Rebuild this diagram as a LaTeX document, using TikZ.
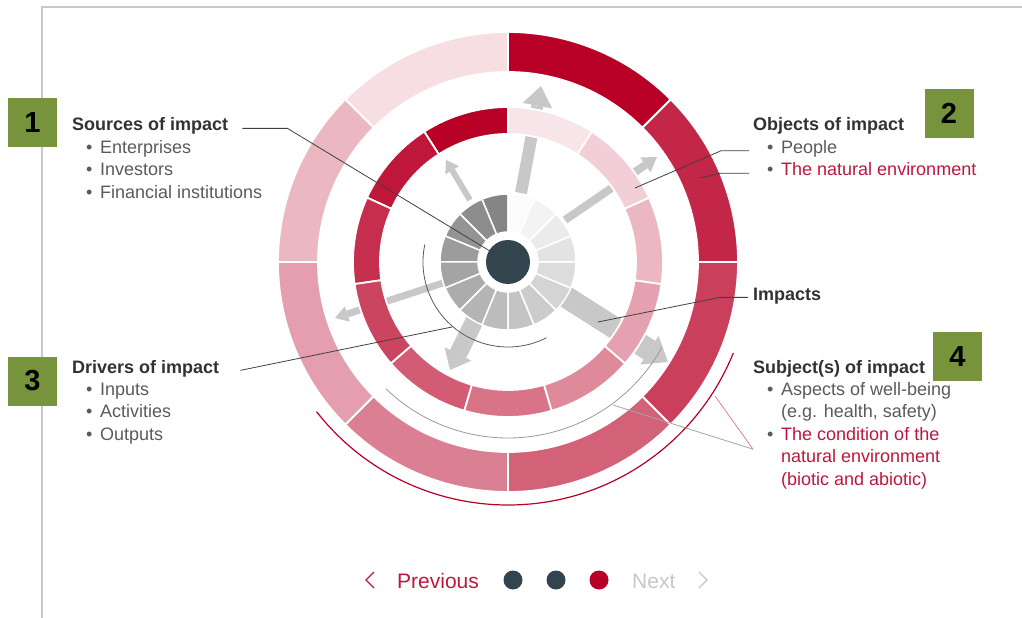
\documentclass[tikz,border=0pt]{standalone}
\usepackage{fontspec}
\setmainfont{Liberation Sans}
\usetikzlibrary{calc}

\definecolor{impred}{RGB}{184,0,38}
\definecolor{textred}{RGB}{190,22,60}
\definecolor{headgray}{RGB}{50,50,50}
\definecolor{itemgray}{RGB}{90,90,90}
\definecolor{boxgreen}{RGB}{119,147,60}
\definecolor{hubblue}{RGB}{52,68,79}
\definecolor{arrowgray}{RGB}{200,200,200}
\definecolor{framegray}{RGB}{200,200,200}

\newcommand{\itembullet}{\makebox[14pt][l]{\textcolor{itemgray}{\textbullet}}}

\begin{document}
\begin{tikzpicture}[x=1pt, y=1pt,
  seg/.style={draw=white, line width=1.8pt},
  leader/.style={draw=black!75, line width=0.8pt},
  head/.style={font=\fontsize{18}{22}\selectfont\bfseries, text=headgray, inner xsep=0pt, inner ysep=2.5pt, text height=13pt, text depth=4pt},
  item/.style={font=\fontsize{18}{22}\selectfont, text=itemgray, inner xsep=0pt, inner ysep=2.5pt, text height=13pt, text depth=4pt},
  numbox/.style={fill=boxgreen, minimum width=49pt, minimum height=49pt, inner sep=0pt, font=\fontsize{29}{29}\selectfont\bfseries},
  nav/.style={font=\fontsize{21}{24}\selectfont, inner xsep=0pt},
  dot/.style={circle, minimum size=19pt, inner sep=0pt}]
  \useasboundingbox (-508,-356) rectangle (514,262);
  \draw[framegray, line width=1.5pt] (-466,-356) -- (-466,255) -- (514,255);

  % gray arrows, under the rings
  \foreach \xa/\ya/\xb/\yb/\sw/\hw/\hl in {13/69/33/176/12/15/20, -38/62/-62/102/6/8/12,
      57/42/149/105/8/9/14, -65/-21/-173/-56/7/8/13, -33/-58/-58/-108/18/15/18, 55/-33/160/-100/22/17/22} {
    \coordinate (hb) at ($(\xb,\yb)!\hl pt!(\xa,\ya)$);
    \draw[arrowgray, line width=\sw pt] (\xa,\ya) -- (hb);
    \fill[arrowgray] ($(hb)!\hw pt!90:(\xb,\yb)$) -- (\xb,\yb) -- ($(hb)!\hw pt!-90:(\xb,\yb)$) -- cycle;
  }

  % outer ring
  \foreach \pct [count=\i from 0] in {13,28,38,50,62,75,85,100} {
    \pgfmathsetmacro{\ang}{90+45*\i}
    \draw[seg, fill=impred!\pct] (\ang:190) -- (\ang:230) arc[start angle=\ang, end angle=\ang+45, radius=230]
      -- (\ang+45:190) arc[start angle=\ang+45, end angle=\ang, radius=190] -- cycle;
  }
  % middle ring
  \foreach \i in {0,...,10} {
    \pgfmathsetmacro{\ang}{90+360/11*\i}
    \pgfmathsetmacro{\pct}{100-9*\i}
    \draw[seg, fill=impred!\pct] (\ang:128) -- (\ang:155) arc[start angle=\ang, end angle=\ang+360/11, radius=155]
      -- (\ang+360/11:128) arc[start angle=\ang+360/11, end angle=\ang, radius=128] -- cycle;
  }
  % gray ring
  \foreach \i in {0,...,15} {
    \pgfmathsetmacro{\ang}{90+22.5*\i}
    \pgfmathsetmacro{\pct}{48-3.1*\i}
    \draw[seg, line width=1.5pt, fill=black!\pct] (\ang:30) -- (\ang:68) arc[start angle=\ang, end angle=\ang+22.5, radius=68]
      -- (\ang+22.5:30) arc[start angle=\ang+22.5, end angle=\ang, radius=30] -- cycle;
  }
  \node[circle, fill=hubblue, minimum size=44pt, inner sep=0pt] (hub) at (0,0) {};

  % thin arcs
  \draw[black!65, line width=0.8pt] (168:85) arc[start angle=168, end angle=297, radius=85];
  \draw[black!40, line width=0.8pt] (226:176) arc[start angle=226, end angle=331, radius=176];
  \draw[impred, line width=1.2pt] (218:243) arc[start angle=218, end angle=338, radius=243];

  \coordinate (pplpt) at (127,74);
  \coordinate (envpt) at (192,84);
  \coordinate (imppt) at (90,-60);
  \coordinate (drvpt) at (-56,-65);
  \coordinate (redpt) at (207,-134);
  \coordinate (graypt) at (105,-143);

  % labels
  \node[head, anchor=base west] (src) at (-436,131) {Sources of impact};
  \node[item, anchor=north west] (ent) at ([xshift=14pt]src.south west) {\itembullet Enterprises};
  \node[item, anchor=north west] (inv) at (ent.south west) {\itembullet Investors};
  \node[item, anchor=north west] (fin) at (inv.south west) {\itembullet Financial institutions};

  \node[head, anchor=base west] (obj) at (245,131) {Objects of impact};
  \node[item, anchor=north west] (ppl) at ([xshift=14pt]obj.south west) {\itembullet People};
  \node[item, text=textred, anchor=north west] (env) at (ppl.south west) {\itembullet The natural environment};

  \node[head, anchor=base west] (imp) at (245,-38) {Impacts};

  \node[head, anchor=base west] (drv) at (-436,-111) {Drivers of impact};
  \node[item, anchor=north west] (inp) at ([xshift=14pt]drv.south west) {\itembullet Inputs};
  \node[item, anchor=north west] (act) at (inp.south west) {\itembullet Activities};
  \node[item, anchor=north west] (outp) at (act.south west) {\itembullet Outputs};

  \node[head, anchor=base west] (subj) at (245,-111) {Subject(s) of impact};
  \node[item, anchor=north west] (asp) at ([xshift=14pt]subj.south west) {\itembullet Aspects of well-being};
  \node[item, anchor=north west] (eg) at ([xshift=14pt]asp.south west) {(e.g. health, safety)};
  \node[item, text=textred, anchor=north west] (cond) at ([xshift=-14pt]eg.south west) {\itembullet The condition of the};
  \node[item, text=textred, anchor=north west] (nat) at ([xshift=14pt]cond.south west) {natural environment};
  \node[item, text=textred, anchor=north west] (bio) at (nat.south west) {(biotic and abiotic)};

  % leader lines
  \draw[leader] ([xshift=14pt]src.mid east) -- ++(45,0) -- (hub.center);
  \draw[leader] ([xshift=-18pt]ppl.mid west) -- ++(-28,0) -- (pplpt);
  \draw[leader] ([xshift=-18pt]env.mid west) -- ++(-28,0) -- (envpt);
  \draw[leader] ([xshift=-5pt]imp.mid west) -- ++(-28,0) -- (imppt);
  \draw[leader] ([xshift=21pt]drv.mid east) -- (drvpt);
  \draw[impred!50, line width=0.8pt] ([shift={(-14pt,-9pt)}]cond.base west) -- (redpt);
  \draw[black!35, line width=0.8pt] ([shift={(-14pt,-9pt)}]cond.base west) -- (graypt);

  % number boxes
  \node[numbox] (n1) at (-475.5,139.5) {1};
  \node[numbox] (n2) at (441,148.5) {2};
  \node[numbox] (n3) at (-475.5,-119) {3};
  \node[numbox] (n4) at (449.5,-94.5) {4};

  % navigation
  \draw[textred, line width=1.3pt] (-134,-310) -- (-142,-318) -- (-134,-326);
  \node[nav, text=textred, anchor=base west] (prev) at (-111,-326) {Previous};
  \node[dot, fill=hubblue] (d1) at (5,-318) {};
  \node[dot, fill=hubblue] (d2) at (48,-318) {};
  \node[dot, fill=impred] (d3) at (91,-318) {};
  \node[nav, text=black!22, anchor=base west] (next) at (124,-326) {Next};
  \draw[black!22, line width=1.3pt] (191,-310) -- (199,-318) -- (191,-326);
\end{tikzpicture}
\end{document}
